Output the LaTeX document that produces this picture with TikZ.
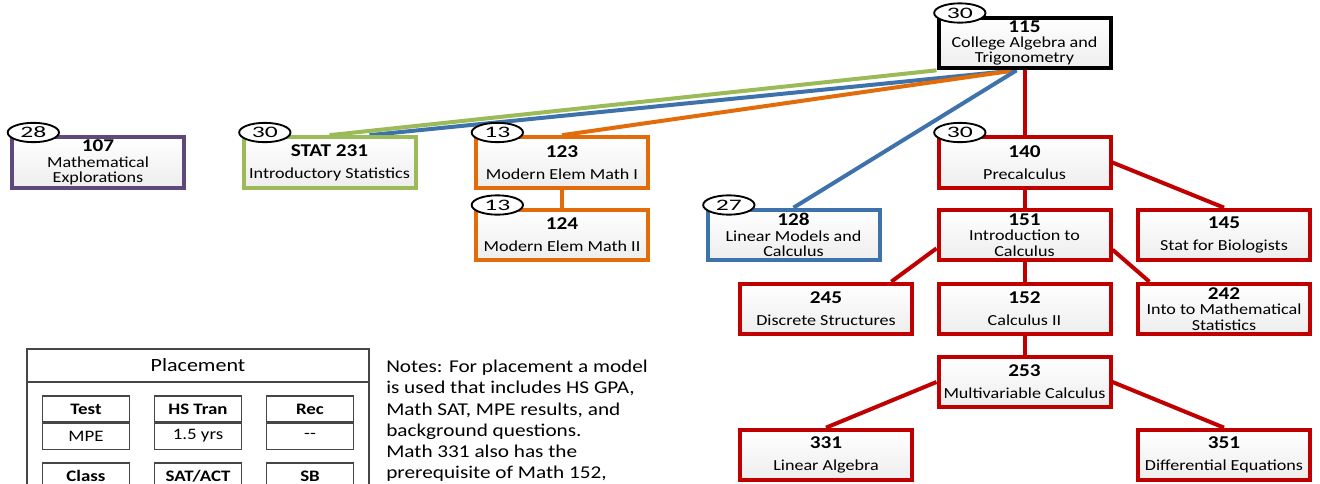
\documentclass[tikz,border=0pt]{standalone}
\usepackage{fontspec}
\setmainfont{Carlito}[FakeStretch=1.18]
\newfontfamily\tagfont{Carlito}[FakeStretch=1.6]
\usetikzlibrary{shapes.geometric,positioning,backgrounds}
\definecolor{purplebox}{RGB}{96,73,122}
\definecolor{greenbox}{RGB}{155,187,89}
\definecolor{bluebox}{RGB}{62,114,170}
\definecolor{orangebox}{RGB}{226,107,10}
\definecolor{redbox}{RGB}{192,0,0}
\definecolor{framegray}{RGB}{70,70,70}
\newcommand{\num}[1]{{\fontsize{13.5}{14}\bfseries #1}}
\newcommand{\course}[2]{\num{#1}\\[5pt]#2}

\begin{document}
\begin{tikzpicture}[x=0.75pt,y=-0.75pt,
  font=\fontsize{11.5}{11.5}\selectfont,
  course/.style={rectangle, draw=#1, line width=3pt, minimum width=129pt,
                 minimum height=38pt, align=center, inner sep=1pt,
                 top color=white, bottom color=gray!14},
  link/.style={line width=3pt, draw=#1},
  enroll/.style={ellipse, draw, line width=1.4pt, fill=white, minimum width=38.5pt,
                 minimum height=14.5pt, inner sep=0pt, font=\tagfont\fontsize{12}{12}\selectfont},
  cellhead/.style={rectangle, draw=framegray, line width=0.8pt, minimum width=65pt,
                   minimum height=19.5pt, inner sep=0pt, font=\fontsize{12}{12}\bfseries},
  cellval/.style={cellhead, font=\fontsize{12}{12}\selectfont}
]
  \path[use as bounding box, clip] (0,0) rectangle (1320,483);

  % course boxes
  \node[course=black]      (n115) at (1024.5,43)  {\num{115}\\College Algebra and\\Trigonometry};
  \node[course=purplebox]  (n107) at (98,162.5)   {\num{107}\\Mathematical\\Explorations};
  \node[course=greenbox]   (nstat) at (329.5,162.5) {\course{STAT 231}{Introductory Statistics}};
  \node[course=orangebox]  (n123) at (562,162.5)  {\course{123}{Modern Elem Math I}};
  \node[course=orangebox]  (n124) at (562,235)    {\course{124}{Modern Elem Math II}};
  \node[course=bluebox]    (n128) at (793.5,235)  {\num{128}\\Linear Models and\\Calculus};
  \node[course=redbox]     (n140) at (1024.5,162.5) {\course{140}{Precalculus}};
  \node[course=redbox]     (n151) at (1024.5,235) {\num{151}\\Introduction to\\Calculus};
  \node[course=redbox]     (n145) at (1224,235)   {\course{145}{Stat for Biologists}};
  \node[course=redbox]     (n245) at (826,309)    {\course{245}{Discrete Structures}};
  \node[course=redbox]     (n152) at (1024.5,309) {\course{152}{Calculus II}};
  \node[course=redbox]     (n242) at (1224,309)   {\num{242}\\Into to Mathematical\\Statistics};
  \node[course=redbox]     (n253) at (1024.5,382) {\course{253}{Multivariable Calculus}};
  \node[course=redbox]     (n331) at (826,455)    {\course{331}{Linear Algebra}};
  \node[course=redbox]     (n351) at (1224,455)   {\course{351}{Differential Equations}};

  % prerequisite links
  \begin{scope}[on background layer]
  \draw[link=greenbox]  (n115.south west) -- (nstat.north);
  \draw[link=bluebox]   ([xshift=-6pt]n115.south) -- ([xshift=-36pt]nstat.north east);
  \draw[link=orangebox] ([xshift=-7pt]n115.south) -- (n123.north);
  \draw[link=bluebox]   ([xshift=-6pt]n115.south) -- (n128.north);
  \draw[link=redbox]    (n115) -- (n140);
  \draw[link=orangebox] (n123) -- (n124);
  \draw[link=redbox]    (n140) -- (n151);
  \draw[link=redbox]    (n140.east) -- (n145.north);
  \draw[link=redbox]    ([yshift=-10pt]n151.west) -- ([xshift=-17pt]n245.north east);
  \draw[link=redbox]    ([yshift=-11pt]n151.east) -- ([xshift=10pt]n242.north west);
  \draw[link=redbox]    (n151) -- (n152);
  \draw[link=redbox]    (n152) -- (n253);
  \draw[link=redbox]    (n253.west) -- (n331.north);
  \draw[link=redbox]    (n253.east) -- (n351.north);
  \end{scope}

  % enrolment tags
  \foreach \c/\v in {n115/30, n107/28, nstat/30, n123/13, n124/13, n128/27, n140/30}
    \node[enroll] (t\c) at ([xshift=17.5pt,yshift=2pt]\c.north west) {\v};

  % placement table
  \draw[framegray, line width=1pt] (27,349) rectangle (369,520);
  \draw[framegray, line width=1pt] (27,382) -- (369,382);
  \node[font=\fontsize{14}{14}\selectfont] (place) at (198,365.5) {Placement};
  \node[cellhead] (test) at (86,409) {Test};
  \node[cellval, below=0pt of test] (mpe) {MPE};
  \node[cellhead] (hstran) at (198,409) {HS Tran};
  \node[cellval, below=0pt of hstran] (yrs) {1.5 yrs};
  \node[cellhead] (rec) at (310,409) {Rec};
  \node[cellval, below=0pt of rec] (recval) {{-}{-}};
  \node[cellhead] (class) at (86,476) {Class};
  \node[cellhead] (satact) at (198,476) {SAT/ACT};
  \node[cellhead] (sb) at (310,476) {SB};

  % notes
  \node[anchor=north west, align=left, inner sep=0pt,
        font=\fontsize{13.5}{15.9}\selectfont] (notes) at (386,360)
    {Notes: For placement a model\\is used that includes HS GPA,\\Math SAT, MPE results, and\\background questions.\\Math 331 also has the\\prerequisite of Math 152,};
\end{tikzpicture}
\end{document}
